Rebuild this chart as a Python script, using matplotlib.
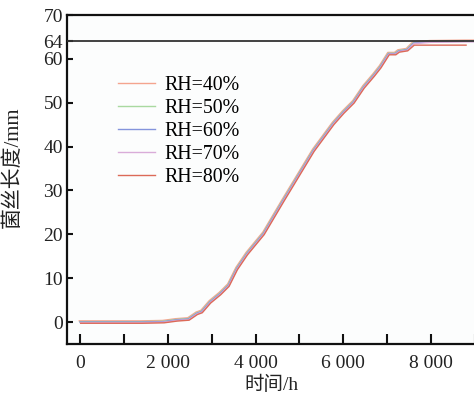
import matplotlib
matplotlib.use("Agg")
import matplotlib.pyplot as plt
import matplotlib.transforms as mtransforms
from matplotlib.ticker import MultipleLocator, FixedLocator

plt.rcParams['font.family'] = ['Liberation Serif', 'Noto Sans CJK SC']

# Data (time in h, hyphal length in mm)
time_h = [0, 1400, 1900, 2200, 2470, 2660, 2770, 2960, 3190, 3380, 3570, 3800,
          4180, 4630, 4860, 5320, 5770, 6000, 6230, 6460, 6690, 6840, 7030,
          7180, 7260, 7450, 7600, 7980, 8780, 9100]
length_base = [0, 0, 0.1, 0.5, 0.7, 2.0, 2.4, 4.6, 6.5, 8.4, 12.2, 15.6,
               20.2, 27.8, 31.6, 39.2, 45.3, 47.9, 50.2, 53.6, 56.3, 58.2, 61.2,
               61.2, 61.8, 62.1, 63.6, 63.9, 64.0, 64.0]
length_rh80 = [0, 0, 0.1, 0.5, 0.7, 2.0, 2.4, 4.6, 6.5, 8.4, 12.2, 15.6,
               20.2, 27.8, 31.6, 39.2, 45.3, 47.9, 50.2, 53.6, 56.3, 58.2, 61.2,
               61.2, 61.8, 62.1, 63.4, 63.4, 63.4]
time_rh80 = time_h[:29]

labels = ['RH=40%', 'RH=50%', 'RH=60%', 'RH=70%', 'RH=80%']
colors = ['#f4a48e', '#a9d9a0', '#8494dc', '#d9acd9', '#dc6a58']
offsets_px = [1.2, 0.4, 0.0, -0.6, -1.2]

x_ticks = [0, 2000, 4000, 6000, 8000]
x_ticklabels = ['0', '2 000', '4 000', '6 000', '8 000']
y_ticks = [0, 10, 20, 30, 40, 50, 60, 64, 70]
ref_level = 64

fig = plt.figure(figsize=(4.74, 3.95), dpi=100)
fig.patch.set_facecolor('white')
ax = fig.add_axes([67/474, 51/395, (475-67)/474, 329/395])
ax.set_facecolor('#fcfdfd')

for i, (lab, c, off) in enumerate(zip(labels, colors, offsets_px)):
    tr = ax.transData + mtransforms.ScaledTranslation(-off*0.6/100, off/100, fig.dpi_scale_trans)
    if i == 4:
        ax.plot(time_rh80, length_rh80, color=c, lw=1.0, label=lab, transform=tr)
    else:
        ax.plot(time_h, length_base, color=c, lw=1.0, label=lab, transform=tr)

ax.axhline(ref_level, color='#333333', lw=1.3, zorder=5)

ax.set_xlim(-296, 9000)
ax.set_ylim(-5, 70)
ax.spines['right'].set_visible(False)
for s in ['left', 'bottom', 'top']:
    ax.spines[s].set_linewidth(1.6)
    ax.spines[s].set_color('#111111')

ax.xaxis.set_major_locator(FixedLocator(x_ticks))
ax.set_xticklabels(x_ticklabels)
ax.xaxis.set_minor_locator(MultipleLocator(1000))
ax.yaxis.set_major_locator(FixedLocator(y_ticks))
ax.tick_params(axis='x', which='both', direction='in', length=7, width=1.5,
               labelsize=14, pad=8, colors='#111111', labelcolor='#222222')
ax.tick_params(axis='y', which='major', direction='in', length=4, width=1.5,
               labelsize=14, pad=3, colors='#111111', labelcolor='#222222')
ax.tick_params(top=False, right=False)

ax.set_xlabel('时间/h', fontsize=14, color='#222222')
ax.xaxis.set_label_coords(0.501, -0.124)
ax.xaxis.label.set_va('center')
ax.set_ylabel('菌丝长度/mm', fontsize=15, color='#222222')
ax.yaxis.set_label_coords(-0.108, 0.538)

leg = ax.legend(loc='upper left', bbox_to_anchor=(0.105, 0.838), frameon=False,
                fontsize=14.3, handlelength=1.86, handletextpad=0.5,
                labelspacing=0.2, borderaxespad=0)

fig.savefig('out.png', dpi=100)
